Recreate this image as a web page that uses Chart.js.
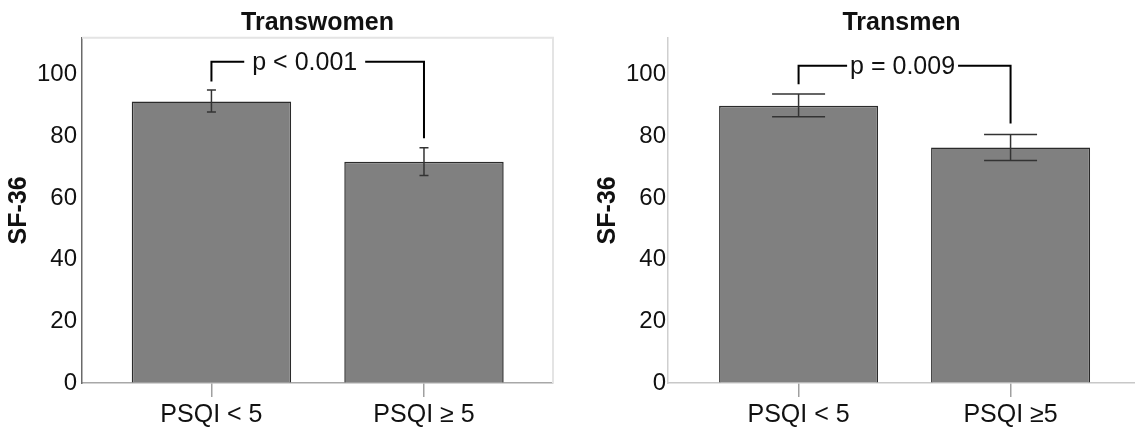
<!DOCTYPE html>
<html>
<head>
<meta charset="utf-8">
<script src="https://cdn.jsdelivr.net/npm/chart.js@4"></script>
<style>
  body { margin: 0; background: #fff; }
  canvas { position: absolute; top: 0; }
</style>
</head>
<body>
<canvas id="women" width="565" height="433" style="left:0"></canvas>
<canvas id="men" width="560" height="433" style="left:575px"></canvas>
<script>
// values
const categoriesWomen = ['PSQI < 5', 'PSQI ≥ 5'];
const categoriesMen = ['PSQI < 5', 'PSQI ≥5'];
const womenMean = [91.3, 71.8];
const womenLow = [87.9, 67.3];
const womenHigh = [95.0, 76.3];
const menMean = [89.9, 76.4];
const menLow = [86.4, 72.2];
const menHigh = [93.7, 80.6];
// bracket: left leg end, bracket level, right leg end
const womenBracket = [97.8, 104.2, 79.4];
const menBracket = [96.9, 102.9, 84.2];
const yTicks = [0, 20, 40, 60, 80, 100];
const yMax = 112;

const FONT = '"Liberation Sans", Arial, sans-serif';

// error bars, significance bracket, title and frame
const extras = {
    id: 'extras',
    afterDatasetsDraw(chart, args, opts) {
        const { ctx, chartArea: a, scales: { x, y } } = chart;
        ctx.save();

        if (opts.frame) {
            ctx.strokeStyle = '#e4e4e4';
            ctx.lineWidth = 2;
            ctx.beginPath();
            ctx.moveTo(a.left, a.top);
            ctx.lineTo(a.right, a.top);
            ctx.lineTo(a.right, a.bottom);
            ctx.stroke();
        }

        ctx.strokeStyle = '#333';
        ctx.lineWidth = 1.5;
        opts.low.forEach((lo, i) => {
            const px = x.getPixelForValue(i);
            const y0 = y.getPixelForValue(lo);
            const y1 = y.getPixelForValue(opts.high[i]);
            ctx.beginPath();
            ctx.moveTo(px, y0); ctx.lineTo(px, y1);
            ctx.moveTo(px - opts.cap, y0); ctx.lineTo(px + opts.cap, y0);
            ctx.moveTo(px - opts.cap, y1); ctx.lineTo(px + opts.cap, y1);
            ctx.stroke();
        });

        const [l, top, r] = opts.bracket;
        const xl = x.getPixelForValue(0);
        const xr = x.getPixelForValue(1);
        const yt = y.getPixelForValue(top);
        ctx.font = '25px ' + FONT;
        const tw = ctx.measureText(opts.pText).width;
        const tx = (xl + xr) / 2 + opts.textShift;
        ctx.strokeStyle = '#000';
        ctx.lineWidth = 2;
        ctx.beginPath();
        ctx.moveTo(xl, y.getPixelForValue(l));
        ctx.lineTo(xl, yt);
        ctx.lineTo(tx - tw / 2 - opts.gap, yt);
        ctx.moveTo(tx + tw / 2 + opts.gap, yt);
        ctx.lineTo(xr, yt);
        ctx.lineTo(xr, y.getPixelForValue(r));
        ctx.stroke();
        ctx.fillStyle = '#111';
        ctx.textAlign = 'center';
        ctx.textBaseline = 'middle';
        ctx.fillText(opts.pText, tx, yt + 1);

        ctx.font = 'bold 25px ' + FONT;
        ctx.fillText(opts.title, (a.left + a.right) / 2, 23);
        ctx.restore();
    }
};

function makeChart(id, cats, mean, low, high, bracket, cfg) {
    return new Chart(document.getElementById(id), {
        type: 'bar',
        data: {
            datasets: [{
                data: mean.map((v, i) => ({ x: i, y: v })),
                backgroundColor: '#808080',
                borderColor: '#2b2b2b',
                borderWidth: 1.5,
                barPercentage: 0.75,
                categoryPercentage: 1
            }]
        },
        options: {
            responsive: false,
            animation: false,
            layout: { padding: { top: 37.7, right: cfg.padRight } },
            plugins: {
                legend: { display: false },
                tooltip: { enabled: false },
                extras: {
                    low, high, bracket,
                    cap: cfg.cap, pText: cfg.pText, textShift: cfg.textShift,
                    gap: cfg.gap, title: cfg.title, frame: cfg.frame
                }
            },
            scales: {
                x: {
                    type: 'linear',
                    offset: false,
                    min: cfg.xMin,
                    max: cfg.xMax,
                    afterBuildTicks: s => { s.ticks = cats.map((c, i) => ({ value: i })); },
                    afterFit: s => { s.height = 50; },
                    grid: { offset: false, drawOnChartArea: false, tickLength: 14, color: '#a0a0a0', lineWidth: 1.5 },
                    border: { color: cfg.xAxisColor, width: 1.5 },
                    ticks: {
                        padding: 3,
                        color: '#111',
                        font: { size: 25, family: FONT },
                        callback: v => cats[v]
                    }
                },
                y: {
                    min: 0,
                    max: yMax,
                    afterBuildTicks: s => { s.ticks = yTicks.map(v => ({ value: v })); },
                    afterFit: s => { s.width = cfg.yWidth; },
                    grid: { drawOnChartArea: false, drawTicks: false },
                    border: { color: cfg.yAxisColor, width: cfg.yAxisWidth },
                    ticks: { padding: cfg.tickPad, color: '#111', font: { size: 24, family: FONT } },
                    title: {
                        display: true,
                        text: 'SF-36',
                        color: '#111',
                        font: { size: 25, weight: 'bold', family: FONT },
                        padding: { top: cfg.titlePad, bottom: 0 }
                    }
                }
            }
        },
        plugins: [extras]
    });
}

makeChart('women', categoriesWomen, womenMean, womenLow, womenHigh, womenBracket, {
    title: 'Transwomen', pText: 'p < 0.001', textShift: -13, gap: 8, cap: 4.5,
    xMin: -0.609, xMax: 1.607, padRight: 12, yWidth: 82, tickPad: 5, titlePad: 4,
    frame: true, xAxisColor: '#a8a8a8', yAxisColor: '#6a6a6a', yAxisWidth: 1.5
});

makeChart('men', categoriesMen, menMean, menLow, menHigh, menBracket, {
    title: 'Transmen', pText: 'p = 0.009', textShift: -2, gap: 3, cap: 26.5,
    xMin: -0.616, xMax: 1.587, padRight: 0, yWidth: 93, tickPad: 2, titlePad: 18,
    frame: false, xAxisColor: '#c8c8c8', yAxisColor: '#cfcfcf', yAxisWidth: 1.5
});
</script>
</body>
</html>
